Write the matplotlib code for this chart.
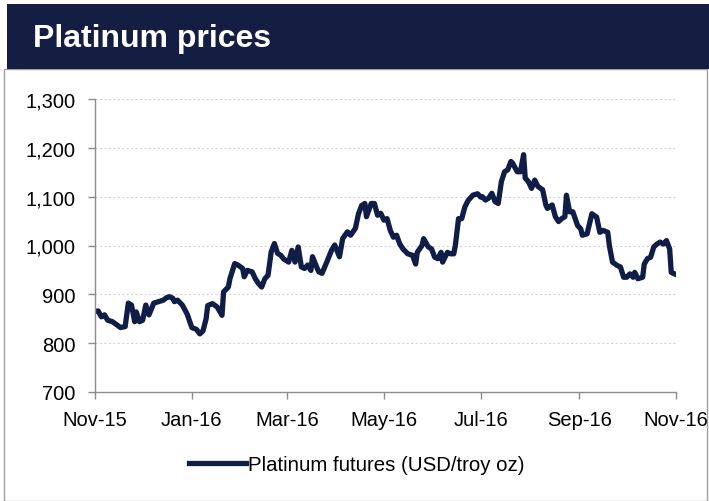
import datetime as dt
import matplotlib
matplotlib.use("Agg")
import matplotlib.pyplot as plt
import matplotlib.dates as mdates
from matplotlib.patches import Rectangle

plt.rcParams['font.family'] = ['Liberation Sans', 'DejaVu Sans']

# platinum futures, days counted from 1 Nov 2015
start = dt.date(2015, 11, 1)
day_offset = [0, 2, 4, 6, 8, 11, 14, 16, 19, 21, 23, 25, 26, 28, 30, 32, 34, 37, 40, 43,
              45, 47, 49, 50, 52, 55, 58, 61, 64, 66, 68, 70, 71, 74, 77, 80, 81, 84, 85, 88,
              90, 93, 94, 96, 99, 101, 103, 105, 107, 109, 111, 113, 115, 117, 119, 122, 124, 126, 128, 130,
              132, 134, 136, 137, 140, 141, 143, 146, 149, 151, 154, 156, 159, 161, 164, 166, 168, 170, 171, 174,
              176, 178, 180, 182, 184, 186, 188, 190, 192, 194, 197, 200, 202, 203, 206, 207, 210, 212, 214, 216,
              218, 219, 222, 224, 226, 227, 229, 231, 233, 235, 238, 241, 243, 244, 246, 248, 250, 252, 254, 256,
              258, 260, 262, 263, 266, 268, 270, 271, 273, 275, 277, 279, 282, 284, 285, 288, 290, 292, 294, 296,
              297, 299, 301, 304, 306, 307, 310, 312, 313, 316, 318, 320, 323, 324, 326, 329, 331, 333, 335, 337,
              339, 340, 342, 345, 346, 348, 350, 352, 354, 356, 358, 360, 362, 363, 365]
price = [865, 866, 854, 858, 847, 844, 837, 832, 834, 882, 878, 844, 864, 844, 847, 878, 858, 882, 885, 888,
         893, 895, 892, 885, 888, 878, 860, 832, 828, 819, 825, 850, 877, 881, 874, 857, 905, 915, 932, 963,
         960, 953, 936, 949, 946, 932, 922, 915, 932, 939, 987, 1004, 984, 980, 972, 966, 990, 966, 997, 956,
         953, 960, 949, 977, 953, 946, 943, 966, 990, 1001, 977, 1014, 1028, 1021, 1035, 1065, 1082, 1086, 1059, 1086,
         1086, 1062, 1066, 1052, 1055, 1031, 1017, 1021, 1003, 993, 983, 980, 962, 986, 1000, 1014, 997, 993, 976, 973,
         986, 966, 986, 983, 983, 1000, 1055, 1055, 1079, 1092, 1103, 1106, 1099, 1100, 1093, 1097, 1107, 1090, 1086, 1131,
         1151, 1155, 1172, 1169, 1151, 1151, 1186, 1138, 1131, 1117, 1134, 1121, 1114, 1083, 1076, 1083, 1059, 1049, 1055, 1059,
         1103, 1069, 1069, 1041, 1034, 1021, 1024, 1051, 1065, 1058, 1027, 1031, 1027, 1000, 966, 959, 956, 935, 935, 942,
         935, 945, 932, 935, 962, 973, 976, 997, 1003, 1007, 1003, 1010, 993, 945, 942]
dates = [start + dt.timedelta(days=d) for d in day_offset]

y_ticks = [700, 800, 900, 1000, 1100, 1200, 1300]
x_ticks = [dt.date(2015, 11, 1), dt.date(2016, 1, 1), dt.date(2016, 3, 1), dt.date(2016, 5, 1),
           dt.date(2016, 7, 1), dt.date(2016, 9, 1), dt.date(2016, 11, 1)]

navy = '#141d42'
line_col = '#0f1d47'
grey = '#8c8c8c'

fig = plt.figure(figsize=(7.09, 5.02), dpi=100)

# panel border and title banner
fig.patches.append(Rectangle((4 / 709, 0), 703 / 709, 432 / 502, transform=fig.transFigure,
                             fill=False, edgecolor='#a0a0a0', linewidth=1))
fig.patches.append(Rectangle((7 / 709, 1 - 70 / 502), 702 / 709, 65 / 502, transform=fig.transFigure,
                             facecolor=navy, edgecolor='none'))
fig.text(33 / 709, 1 - 39 / 502, 'Platinum prices', color='white', fontsize=23,
         fontweight='bold', va='center', ha='left')

ax = fig.add_axes([95 / 709, 1 - 393 / 502, 581 / 709, 293 / 502])
ax.plot(dates, price, color=line_col, linewidth=3.8, solid_joinstyle='round',
        label='Platinum futures (USD/troy oz)')

ax.set_ylim(700, 1300)
ax.set_yticks(y_ticks)
ax.yaxis.set_major_formatter(matplotlib.ticker.FuncFormatter(lambda v, p: f'{int(v):,}'))
ax.set_xlim(x_ticks[0], x_ticks[-1])
ax.set_xticks(x_ticks)
ax.xaxis.set_major_formatter(mdates.DateFormatter('%b-%y'))

for v in y_ticks[1:]:
    ax.axhline(v, color='#d4d4d4', linewidth=0.8, linestyle=(0, (2, 2)), zorder=0)

for s in ['top', 'right']:
    ax.spines[s].set_visible(False)
for s in ['left', 'bottom']:
    ax.spines[s].set_color(grey)
    ax.spines[s].set_linewidth(1)
ax.tick_params(axis='both', colors=grey, labelcolor='black', labelsize=14.5, length=5, width=1)
ax.tick_params(axis='y', pad=9)
ax.tick_params(axis='x', pad=8)

fig.legend(loc='center', bbox_to_anchor=(357 / 709, 1 - 466 / 502), frameon=False,
           fontsize=14.7, handlelength=2.8, handletextpad=0.1)

fig.savefig('out.png', dpi=100)
